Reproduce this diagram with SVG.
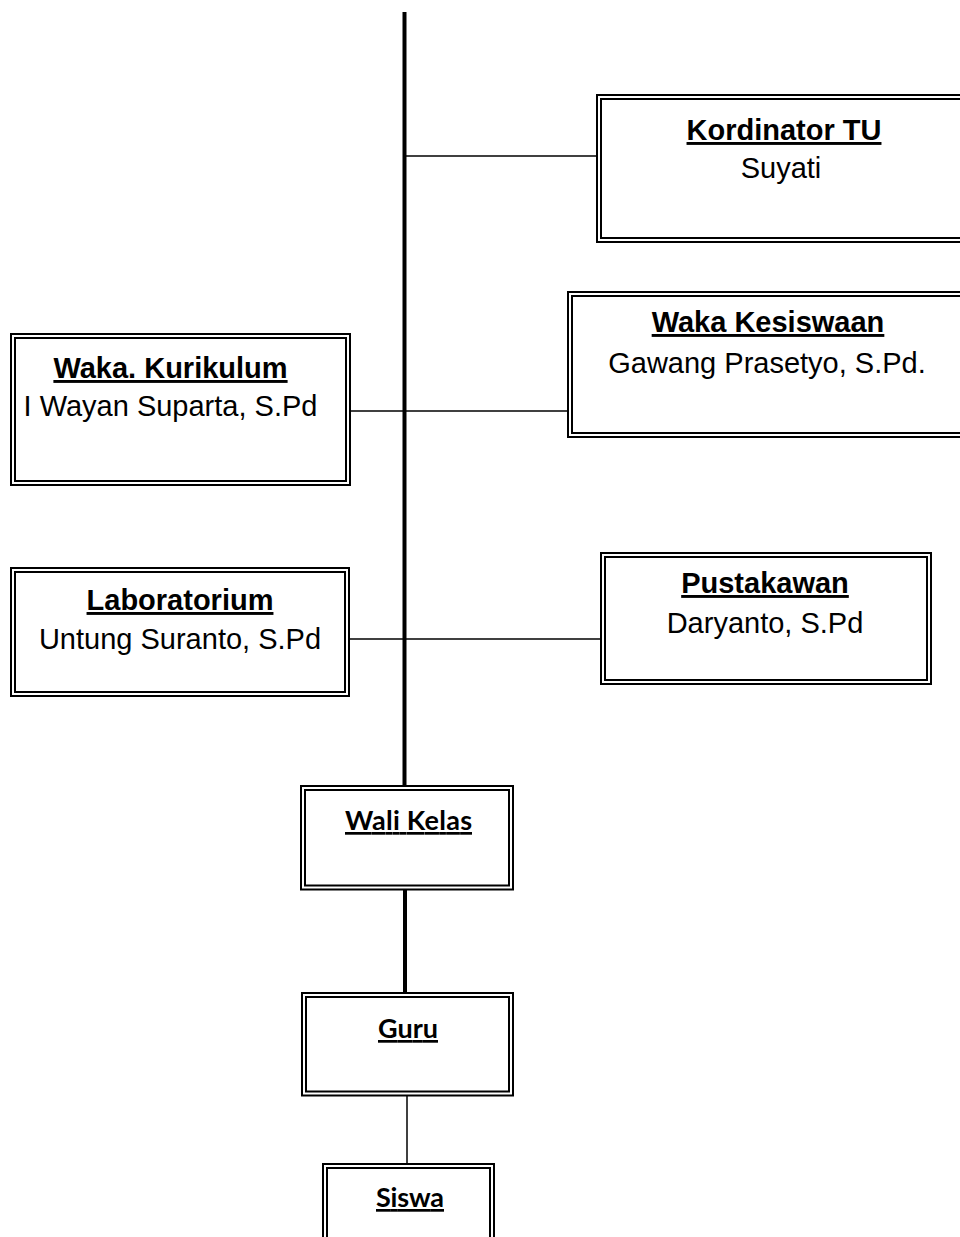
<svg xmlns="http://www.w3.org/2000/svg" width="960" height="1237" viewBox="0 0 960 1237">
<style>
.o{fill:#fff;stroke:#000;stroke-width:2}
.i{fill:none;stroke:#000;stroke-width:2}
.h{font-family:"Liberation Sans",Arial,sans-serif;font-size:29px;font-weight:bold;text-decoration:underline;text-anchor:middle;fill:#000}
.n{font-family:"Liberation Sans",Arial,sans-serif;font-size:29px;text-anchor:middle;fill:#000}
.c{font-family:Lato,"Open Sans",sans-serif;font-size:27px;font-weight:bold;text-decoration:underline;text-anchor:middle;fill:#000}
.thin{stroke:#000;stroke-width:1.5;fill:none}
.thick{stroke:#000;stroke-width:4;fill:none}
</style>
<g id="connectors">
<line class="thick" x1="404.5" y1="12" x2="404.5" y2="786"/>
<line class="thin" x1="404" y1="156" x2="597" y2="156"/>
<line class="thin" x1="350" y1="411" x2="568" y2="411"/>
<line class="thin" x1="349" y1="639" x2="601" y2="639"/>
<line class="thick" x1="405" y1="889" x2="405" y2="993"/>
<line class="thin" x1="407" y1="1096" x2="407" y2="1164"/>
</g>
<g id="kordinator-tu">
<rect class="o" x="597" y="95" width="380" height="147"/>
<rect class="i" x="601" y="99" width="372" height="139"/>
<text class="h" x="784" y="140">Kordinator TU</text>
<text class="n" x="781" y="178">Suyati</text>
</g>
<g id="waka-kesiswaan">
<rect class="o" x="568" y="292" width="410" height="145"/>
<rect class="i" x="572" y="296" width="402" height="137"/>
<text class="h" x="768" y="332">Waka Kesiswaan</text>
<text class="n" x="767" y="373">Gawang Prasetyo, S.Pd.</text>
</g>
<g id="waka-kurikulum">
<rect class="o" x="11" y="334" width="339" height="151"/>
<rect class="i" x="15" y="338" width="331" height="143"/>
<text class="h" x="170.5" y="378">Waka. Kurikulum</text>
<text class="n" x="170.5" y="416">I Wayan Suparta, S.Pd</text>
</g>
<g id="laboratorium">
<rect class="o" x="11" y="568" width="338" height="128"/>
<rect class="i" x="15" y="572" width="330" height="120"/>
<text class="h" x="180" y="610">Laboratorium</text>
<text class="n" x="180" y="649">Untung Suranto, S.Pd</text>
</g>
<g id="pustakawan">
<rect class="o" x="601" y="553" width="330" height="131"/>
<rect class="i" x="605" y="557" width="322" height="123"/>
<text class="h" x="765" y="593">Pustakawan</text>
<text class="n" x="765" y="633">Daryanto, S.Pd</text>
</g>
<g id="wali-kelas">
<rect class="o" x="301" y="786" width="212" height="103.5"/>
<rect class="i" x="305" y="790" width="204" height="95.5"/>
<text class="c" x="408.5" y="830" textLength="127">Wali Kelas</text>
</g>
<g id="guru">
<rect class="o" x="302" y="993" width="211" height="102.5"/>
<rect class="i" x="306" y="997" width="203" height="94.5"/>
<text class="c" x="408" y="1038" textLength="60">Guru</text>
</g>
<g id="siswa">
<rect class="o" x="323" y="1164" width="171" height="90"/>
<rect class="i" x="327" y="1168" width="163" height="90"/>
<text class="c" x="410" y="1207" textLength="68">Siswa</text>
</g>
</svg>
